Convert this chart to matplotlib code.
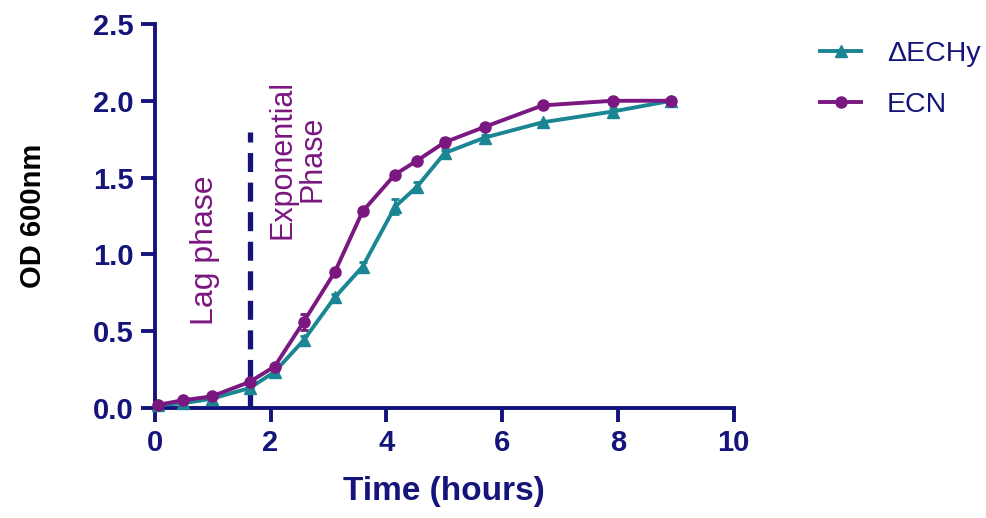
import numpy as np
import matplotlib
matplotlib.use("Agg")
import matplotlib.pyplot as plt
from matplotlib.lines import Line2D

plt.rcParams['font.family'] = ['Liberation Sans', 'DejaVu Sans']

# time points (hours)
time = [0.05, 0.48, 0.98, 1.64, 2.07, 2.57, 3.11, 3.59, 4.15, 4.53, 5.01, 5.70, 6.70, 7.91, 8.92]
# OD600 values
echy = [0.02, 0.03, 0.06, 0.13, 0.235, 0.44, 0.72, 0.92, 1.31, 1.44, 1.66, 1.76, 1.86, 1.93, 2.0]
echy_err = [0, 0, 0, 0, 0, 0.03, 0.02, 0.03, 0.05, 0.03, 0.02, 0.02, 0, 0.02, 0]
ecn = [0.02, 0.05, 0.075, 0.17, 0.27, 0.56, 0.885, 1.28, 1.52, 1.61, 1.73, 1.83, 1.97, 2.0, 2.0]
ecn_err = [0, 0, 0, 0, 0, 0.05, 0, 0, 0, 0, 0.03, 0.02, 0, 0, 0]

lag_end = 1.64

navy = '#14147a'
teal = '#1a8593'
purple = '#7a1780'

fig = plt.figure(figsize=(9.86, 5.18), dpi=100)
ax = fig.add_axes([0.157, 0.2124, 0.587, 0.7413])

ax.errorbar(time, echy, yerr=echy_err, color=teal, marker='^', markersize=9, linewidth=2.8,
            capsize=3, elinewidth=2, capthick=2, clip_on=False, zorder=3)
ax.errorbar(time, ecn, yerr=ecn_err, color=purple, marker='o', markersize=8, linewidth=2.8,
            capsize=3, elinewidth=2, capthick=2, clip_on=False, zorder=3)

ax.plot([lag_end, lag_end], [0, 1.8], color=navy, linewidth=3.8, linestyle=(0, (3.6, 2.0)), zorder=2)

ax.text(0.86, 1.03, 'Lag phase', rotation=90, color=purple, fontsize=23,
        ha='center', va='center')
ax.text(2.47, 1.62, 'Exponential\nPhase', rotation=90, color=purple, fontsize=22,
        ha='center', va='center', multialignment='center', linespacing=1.0)

ax.set_xlim(0, 10)
ax.set_ylim(0, 2.5)
ax.set_xticks([0, 2, 4, 6, 8, 10])
ax.set_yticks([0.0, 0.5, 1.0, 1.5, 2.0, 2.5])
ax.set_yticklabels(['0.0', '0.5', '1.0', '1.5', '2.0', '2.5'])

for side in ['top', 'right']:
    ax.spines[side].set_visible(False)
for side in ['left', 'bottom']:
    ax.spines[side].set_color(navy)
    ax.spines[side].set_linewidth(2.8)

ax.tick_params(colors=navy, width=2.8, length=10, labelsize=21, pad=5)
for lbl in ax.get_xticklabels() + ax.get_yticklabels():
    lbl.set_fontweight('bold')

ax.set_xlabel('Time (hours)', fontsize=24, fontweight='bold', color=navy, labelpad=14)
ax.set_ylabel('OD 600nm', fontsize=21, fontweight='bold', color='black', labelpad=33)

handles = [Line2D([], [], color=teal, marker='^', markersize=9, linewidth=2.8),
           Line2D([], [], color=purple, marker='o', markersize=8, linewidth=2.8)]
leg = fig.legend(handles, ['\u0394ECHy', 'ECN'], loc='upper left', bbox_to_anchor=(0.8316, 0.92),
                 frameon=False, fontsize=20.5, handlelength=1.45, handletextpad=0.9,
                 labelspacing=0.85, borderpad=0, borderaxespad=0)
for t in leg.get_texts():
    t.set_color(navy)

fig.savefig('out.png', dpi=100)
